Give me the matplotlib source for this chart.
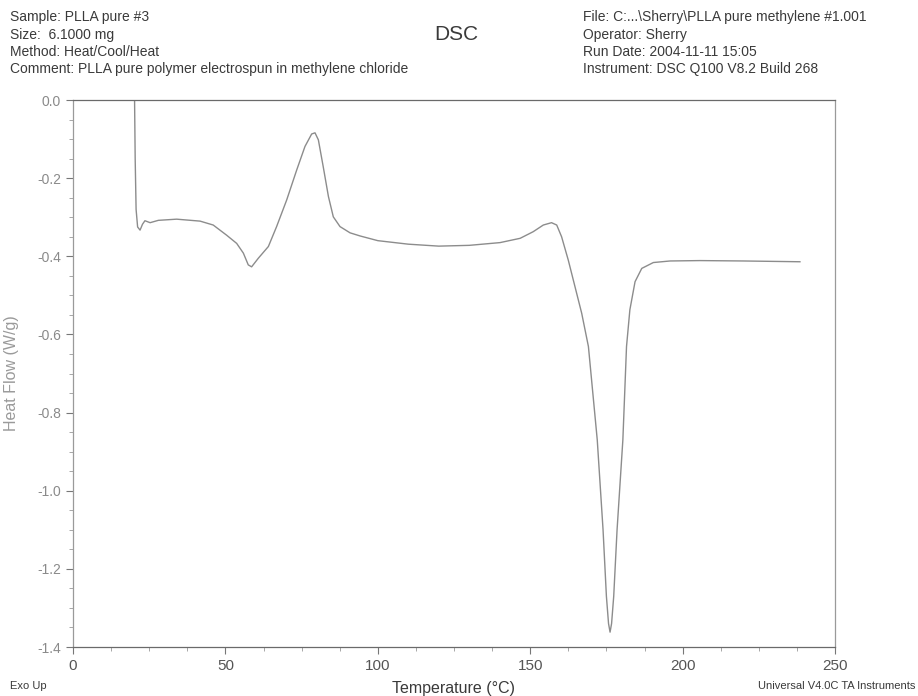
import matplotlib
matplotlib.use('Agg')
import matplotlib.pyplot as plt
from matplotlib.ticker import MultipleLocator, FormatStrFormatter

plt.rcParams['font.family'] = ['Liberation Sans', 'DejaVu Sans']

# DSC trace (temperature in C, heat flow in W/g)
temp = [20.2, 20.4, 20.7, 21.2, 22.0, 22.8, 23.6, 25.3, 28.0, 34.0, 41.7, 46.0,
        50.4, 53.7, 55.9, 57.5, 58.6, 60.8, 64.1, 66.8, 70.1, 73.4, 76.1, 78.3,
        79.4, 80.5, 82.1, 83.8, 85.4, 87.6, 90.9, 94.2, 100.0, 110.0, 120.0,
        130.0, 140.1, 146.7, 151.0, 154.3, 157.0, 158.7, 160.3, 162.5, 164.7,
        166.9, 169.1, 172.0, 173.9, 175.0, 175.7, 176.2, 176.7, 177.4, 178.5,
        180.4, 181.6, 182.7, 184.4, 186.6, 190.4, 195.9, 205.7, 220.0, 238.5]
heat = [0.0, -0.15, -0.28, -0.325, -0.333, -0.318, -0.309, -0.314, -0.308,
        -0.305, -0.310, -0.320, -0.346, -0.367, -0.392, -0.422, -0.427, -0.405,
        -0.375, -0.324, -0.256, -0.179, -0.119, -0.087, -0.084, -0.102, -0.171,
        -0.247, -0.299, -0.324, -0.340, -0.348, -0.360, -0.369, -0.374, -0.372,
        -0.365, -0.354, -0.337, -0.320, -0.314, -0.320, -0.350, -0.410, -0.478,
        -0.546, -0.631, -0.870, -1.10, -1.27, -1.34, -1.362, -1.34, -1.27,
        -1.10, -0.870, -0.631, -0.537, -0.465, -0.431, -0.416, -0.412, -0.411,
        -0.412, -0.414]

left_info = ["Sample: PLLA pure #3", "Size:  6.1000 mg", "Method: Heat/Cool/Heat",
             "Comment: PLLA pure polymer electrospun in methylene chloride"]
right_info = ["File: C:...\\Sherry\\PLLA pure methylene #1.001", "Operator: Sherry",
              "Run Date: 2004-11-11 15:05", "Instrument: DSC Q100 V8.2 Build 268"]

txt = '#3a3a3a'
light = '#8a8a8a'

fig = plt.figure(figsize=(9.18, 6.96), dpi=100)
ax = fig.add_axes([73 / 918, 1 - 647 / 696, 762 / 918, 547 / 696])

ax.plot(temp, heat, color='#8c8c8c', lw=1.0)

ax.set_xlim(0, 250)
ax.set_ylim(-1.4, 0.0)
ax.xaxis.set_major_locator(MultipleLocator(50))
ax.xaxis.set_minor_locator(MultipleLocator(12.5))
ax.yaxis.set_major_locator(MultipleLocator(0.2))
ax.yaxis.set_minor_locator(MultipleLocator(0.05))
ax.yaxis.set_major_formatter(FormatStrFormatter('%.1f'))

for s in ax.spines.values():
    s.set_color('#9a9a9a')
    s.set_linewidth(0.9)
ax.spines['top'].set_color('#6a6a6a')
ax.spines['bottom'].set_color('#6a6a6a')

ax.tick_params(axis='both', which='major', direction='out', length=5,
               color='#777777', labelsize=10, labelcolor=light)
ax.tick_params(axis='both', which='minor', direction='out', length=3, color='#999999')
ax.tick_params(axis='x', labelcolor='#555555', labelsize=11)

# axis titles placed by hand so they sit where the scan has them
fig.text(454 / 918, 1 - 688 / 696, 'Temperature (°C)', fontsize=11.5, color=txt,
         ha='center', va='center')
fig.text(12 / 918, 1 - 373 / 696, 'Heat Flow (W/g)', fontsize=11.5, color='#9a9a9a',
         ha='center', va='center', rotation=90)

y0 = 17
for i, line in enumerate(left_info):
    fig.text(10 / 918, 1 - (y0 + i * 17.5) / 696, line, fontsize=10, color=txt, va='center')
for i, line in enumerate(right_info):
    fig.text(583 / 918, 1 - (y0 + i * 17.5) / 696, line, fontsize=10, color=txt, va='center')
fig.text(456 / 918, 1 - 34 / 696, 'DSC', fontsize=15, color=txt, ha='center', va='center')

fig.text(10 / 918, 1 - 686 / 696, 'Exo Up', fontsize=8, color=txt, va='center')
fig.text(915 / 918, 1 - 686 / 696, 'Universal V4.0C TA Instruments', fontsize=8,
         color=txt, ha='right', va='center')

fig.savefig('out.png', dpi=100, facecolor='white')
